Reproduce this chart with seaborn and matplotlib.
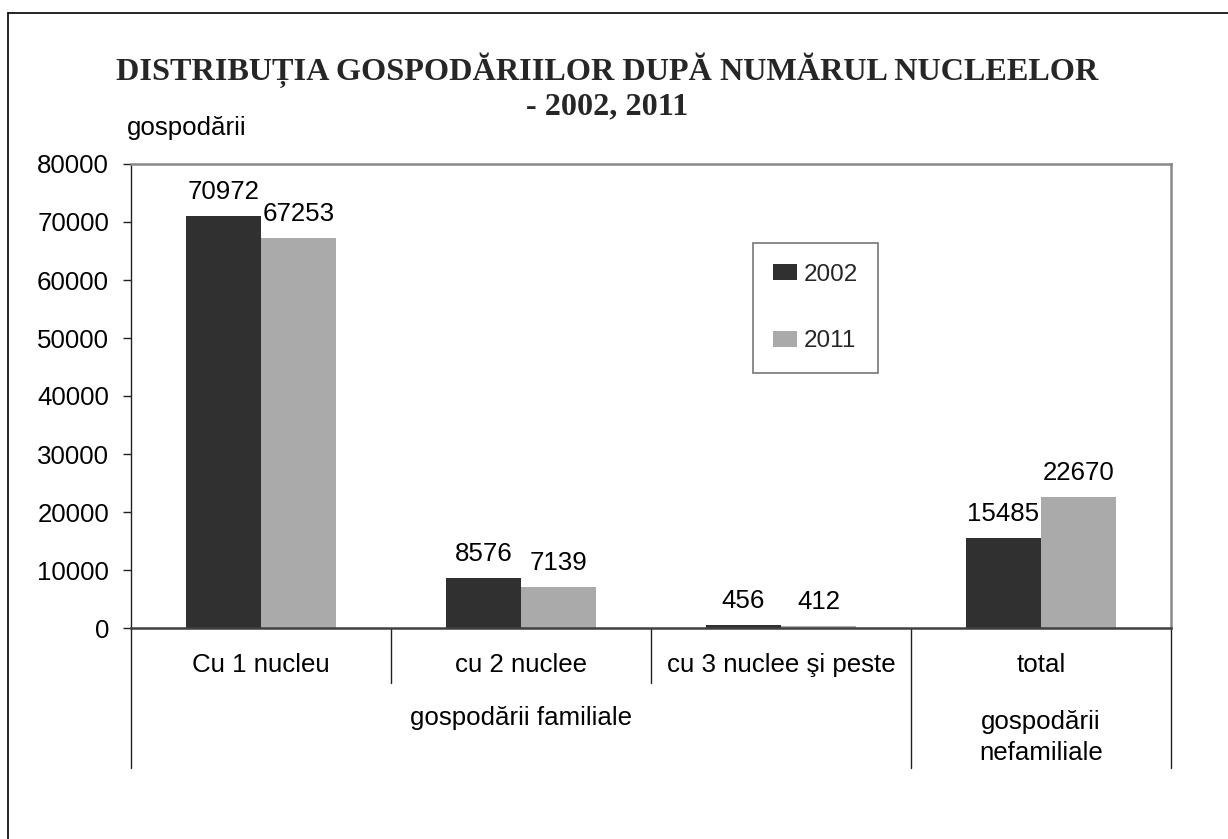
import matplotlib
matplotlib.use("Agg")
import matplotlib.pyplot as plt
from matplotlib.lines import Line2D
import pandas as pd
import seaborn as sns

# ---- data ----
categories = ["Cu 1 nucleu", "cu 2 nuclee", "cu 3 nuclee şi peste", "total"]
years = ["2002", "2011"]
values_2002 = [70972, 8576, 456, 15485]
values_2011 = [67253, 7139, 412, 22670]
group_labels = ["gospodării familiale", "gospodării\nnefamiliale"]
title_lines = ["DISTRIBUȚIA GOSPODĂRIILOR DUPĂ NUMĂRUL NUCLEELOR", "- 2002, 2011"]
y_ticks = [0, 10000, 20000, 30000, 40000, 50000, 60000, 70000, 80000]

df = pd.DataFrame({
    "categorie": categories * 2,
    "an": [years[0]] * len(categories) + [years[1]] * len(categories),
    "gospodarii": values_2002 + values_2011,
})

sns.set_theme(style="white")
plt.rcParams["font.family"] = ["Liberation Sans", "DejaVu Sans"]

W, H = 1228, 839
fig = plt.figure(figsize=(W / 100, H / 100), dpi=100)
fig.patch.set_facecolor("white")


def fx(px):
    return px / W


def fy(py):
    return 1 - py / H


# plot area in pixels: left 131, right 1171, top 164, bottom 628
ax = fig.add_axes([fx(131), fy(628), fx(1171 - 131), (628 - 164) / H])

palette = {"2002": "#303030", "2011": "#aaaaaa"}
sns.barplot(data=df, x="categorie", y="gospodarii", hue="an", order=categories,
            hue_order=years, palette=palette, width=0.577, gap=0, dodge=True,
            saturation=1, linewidth=0, ax=ax, legend=True)

ax.set_xlim(-0.5, len(categories) - 0.5)
ax.set_ylim(0, 80000)
ax.set_yticks(y_ticks)
ax.set_yticklabels([str(v) for v in y_ticks], fontsize=18.6, color="black")
ax.tick_params(axis="y", left=True, length=5.8, width=1.0, color="#222222", pad=10,
               direction="out")
ax.tick_params(axis="x", bottom=False, length=0, pad=18, labelsize=18.6,
               labelcolor="black")
ax.set_xlabel("")
ax.set_ylabel("")

# frame
ax.spines["left"].set_color("#222222")
ax.spines["left"].set_linewidth(1.0)
ax.spines["bottom"].set_color("#404040")
ax.spines["bottom"].set_linewidth(1.8)
ax.spines["top"].set_color("#888888")
ax.spines["top"].set_linewidth(1.8)
ax.spines["right"].set_color("#888888")
ax.spines["right"].set_linewidth(1.8)
ax.grid(False)

# value labels above the bars
for cont in ax.containers:
    ax.bar_label(cont, labels=[f"{int(v)}" for v in cont.datavalues],
                 padding=8.6, fontsize=18.6, color="black")

# category separators below the axis
tr = ax.get_xaxis_transform()
for xpos in [0.5, 1.5]:
    ax.add_line(Line2D([xpos, xpos], [0, -0.1185], transform=tr, color="#222222",
                       lw=1.0, clip_on=False))
for xpos in [-0.5, 2.5, 3.5]:
    ax.add_line(Line2D([xpos, xpos], [0, -0.3017], transform=tr, color="#222222",
                       lw=1.0, clip_on=False))

# second-level group labels
ax.text(1.0, -0.194, group_labels[0], transform=tr, ha="center", va="center",
        fontsize=18.6, color="black")
ax.text(3.0, -0.236, group_labels[1], transform=tr, ha="center", va="center",
        fontsize=18.6, color="black", linespacing=1.35)

# legend
handles, labels = ax.get_legend_handles_labels()
ax.get_legend().remove()
leg = fig.legend(handles, labels, loc="center", bbox_to_anchor=(fx(815.5), fy(308)),
                 fontsize=17.5, frameon=True, fancybox=False, borderpad=0.85,
                 handlelength=1.0, handleheight=0.66, handletextpad=0.25,
                 labelspacing=1.85)
leg.get_frame().set_edgecolor("#555555")
leg.get_frame().set_linewidth(1.2)

# title (two centred lines) and axis unit
serif = ["Liberation Serif", "DejaVu Serif"]
fig.text(fx(607), fy(70), title_lines[0], ha="center", va="center", fontsize=23.2,
         fontweight="bold", family=serif)
fig.text(fx(607), fy(107), title_lines[1], ha="center", va="center", fontsize=23.2,
         fontweight="bold", family=serif)
fig.text(fx(127), fy(128), "gospodării", ha="left", va="center", fontsize=18.6,
         color="black")

# outer frame (left and top edges)
fig.add_artist(Line2D([fx(8), fx(8)], [fy(13), 0], transform=fig.transFigure,
                      color="black", lw=1.2))
fig.add_artist(Line2D([fx(8), 1], [fy(13), fy(13)], transform=fig.transFigure,
                      color="black", lw=1.2))

fig.savefig("out.png", dpi=100, facecolor="white")
